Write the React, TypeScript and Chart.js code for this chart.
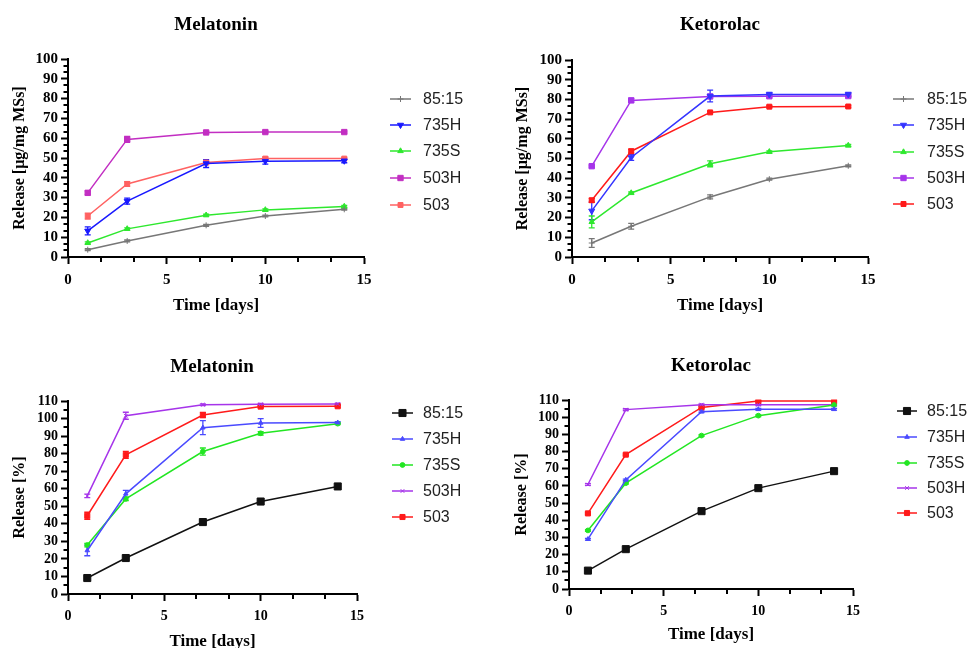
import React, { useEffect, useRef } from 'react';
import { Chart, registerables } from 'chart.js';
import { drawPoint } from 'chart.js/helpers';

Chart.register(...registerables);

// ---------- data ----------
const days = [1, 3, 7, 10, 14];
const seriesNames = ['85:15', '735H', '735S', '503H', '503'];
const xTicks = [0, 5, 10, 15];

// Melatonin, µg/mg MSs
const melUg8515 = [3.7, 8.1, 16.0, 20.7, 24.1];
const melUg735H = [13.2, 28.2, 47.2, 48.4, 48.6];
const melUg735S = [7.1, 14.2, 21.1, 23.8, 25.5];
const melUg503H = [32.4, 59.4, 62.9, 63.1, 63.1];
const melUg503 = [20.7, 36.9, 47.7, 49.7, 49.7];
const melUgErr8515 = [0.5, 0.5, 0.5, 0.4, 0.4];
const melUgErr735H = [2.0, 1.5, 2.0, 1.5, 1.0];
const melUgErr735S = [0.5, 0.5, 0.5, 0.5, 0.5];
const melUgErr503H = [1.0, 1.5, 0.5, 0.5, 0.5];
const melUgErr503 = [1.5, 1.2, 1.0, 0.8, 0.5];

// Ketorolac, µg/mg MSs
const ketUg8515 = [7.1, 15.6, 30.5, 39.5, 46.3];
const ketUg735H = [23.4, 50.5, 81.7, 82.5, 82.5];
const ketUg735S = [17.8, 32.5, 47.3, 53.4, 56.6];
const ketUg503H = [46.1, 79.5, 81.5, 81.6, 81.7];
const ketUg503 = [28.8, 53.7, 73.4, 76.3, 76.4];
const ketUgErr8515 = [2.2, 1.5, 1.0, 0.5, 0.5];
const ketUgErr735H = [4.5, 1.5, 3.0, 1.0, 1.0];
const ketUgErr735S = [3.0, 0.5, 1.5, 0.5, 0.5];
const ketUgErr503H = [0.5, 1.0, 0.5, 0.5, 0.5];
const ketUgErr503 = [1.0, 1.0, 0.5, 0.5, 0.5];

// Melatonin, %
const melPct8515 = [9.1, 20.5, 41.0, 52.7, 61.3];
const melPct735H = [24.8, 57.1, 94.8, 97.5, 97.7];
const melPct735S = [27.9, 54.2, 81.2, 91.6, 97.1];
const melPct503H = [55.9, 101.6, 107.9, 108.1, 108.3];
const melPct503 = [44.6, 79.3, 102.0, 106.8, 107.0];
const melPctErr8515 = [1.0, 1.5, 1.5, 0.5, 0.5];
const melPctErr735H = [3.0, 2.0, 4.0, 2.5, 0.5];
const melPctErr735S = [1.0, 1.0, 2.0, 1.0, 0.5];
const melPctErr503H = [1.0, 2.0, 0.5, 0.5, 0.5];
const melPctErr503 = [2.0, 2.0, 1.5, 0.5, 0.5];

// Ketorolac, %
const ketPct8515 = [10.7, 23.2, 45.3, 58.7, 68.6];
const ketPct735H = [29.0, 63.5, 103.2, 104.6, 104.6];
const ketPct735S = [34.1, 61.6, 89.3, 100.9, 107.1];
const ketPct503H = [60.8, 104.4, 107.3, 107.3, 107.3];
const ketPct503 = [44.0, 78.2, 105.7, 109.4, 109.4];
const ketPctErr8515 = [0.5, 0.5, 0.5, 0.5, 0.5];
const ketPctErr735H = [0.5, 0.5, 0.5, 0.5, 0.5];
const ketPctErr735S = [0.5, 0.5, 0.5, 0.5, 0.5];
const ketPctErr503H = [0.5, 0.5, 0.5, 0.5, 0.5];
const ketPctErr503 = [0.5, 0.5, 0.5, 0.5, 0.5];

// ---------- styles ----------
const SERIF = '"Liberation Serif", "Times New Roman", serif';
const SANS = '"Liberation Sans", Arial, sans-serif';

type Mk = { style: string; r: number; rot?: number };
const topMarkers: Mk[] = [
  { style: 'cross', r: 3 },
  { style: 'triangle', r: 3.5, rot: 180 },
  { style: 'triangle', r: 3.2 },
  { style: 'rect', r: 3.8 },
  { style: 'rect', r: 3.5 },
];
const botMarkers: Mk[] = [
  { style: 'rect', r: 5 },
  { style: 'triangle', r: 2.6 },
  { style: 'circle', r: 2.4 },
  { style: 'crossRot', r: 2.6 },
  { style: 'rect', r: 3.6 },
];
const colorsA = ['#777777', '#1818ff', '#2ee82e', '#c22ec2', '#ff6262'];
const colorsB = ['#777777', '#3434ff', '#2ee82e', '#a634ea', '#ff1a1a'];
const colorsCD = ['#111111', '#4a4aff', '#22e622', '#a634ea', '#ff1a1a'];

type Geo = {
  x: number; y: number; w: number; h: number;
  left: number; right: number; top: number; bottom: number;
  yTitleX: number; xTitleY: number;
  titleX: number; titleY: number;
  legX1: number; legX2: number; legTextX: number; legY: number[];
};

type PanelCfg = {
  id: string;
  title: string;
  yTitle: string;
  yMax: number;
  yMinor: number;
  tickSize: number;
  values: number[][];
  errors: number[][];
  colors: string[];
  markers: Mk[];
  g: Geo;
};

const panels: PanelCfg[] = [
  {
    id: 'a', title: 'Melatonin', yTitle: 'Release [µg/mg MSs]', yMax: 100, yMinor: 10 / 3, tickSize: 15,
    values: [melUg8515, melUg735H, melUg735S, melUg503H, melUg503],
    errors: [melUgErr8515, melUgErr735H, melUgErr735S, melUgErr503H, melUgErr503],
    colors: colorsA, markers: topMarkers,
    g: { x: 0, y: 0, w: 480, h: 320, left: 68, right: 364, top: 59, bottom: 257,
      yTitleX: 20, xTitleY: 306, titleX: 216, titleY: 30,
      legX1: 390, legX2: 411, legTextX: 423, legY: [99, 125, 151, 178, 205] },
  },
  {
    id: 'b', title: 'Ketorolac', yTitle: 'Release [µg/mg MSs]', yMax: 100, yMinor: 10 / 3, tickSize: 15,
    values: [ketUg8515, ketUg735H, ketUg735S, ketUg503H, ketUg503],
    errors: [ketUgErr8515, ketUgErr735H, ketUgErr735S, ketUgErr503H, ketUgErr503],
    colors: colorsB, markers: topMarkers,
    g: { x: 480, y: 0, w: 487, h: 320, left: 92, right: 388, top: 60, bottom: 257,
      yTitleX: 43, xTitleY: 306, titleX: 240, titleY: 30,
      legX1: 413, legX2: 434, legTextX: 447, legY: [99, 125, 152, 178, 204] },
  },
  {
    id: 'c', title: 'Melatonin', yTitle: 'Release [%]', yMax: 110, yMinor: 5, tickSize: 14,
    values: [melPct8515, melPct735H, melPct735S, melPct503H, melPct503],
    errors: [melPctErr8515, melPctErr735H, melPctErr735S, melPctErr503H, melPctErr503],
    colors: colorsCD, markers: botMarkers,
    g: { x: 0, y: 320, w: 480, h: 345, left: 68, right: 357, top: 81, bottom: 274,
      yTitleX: 19.5, xTitleY: 322, titleX: 212, titleY: 52,
      legX1: 392, legX2: 413, legTextX: 423, legY: [93, 119, 145, 171, 197] },
  },
  {
    id: 'd', title: 'Ketorolac', yTitle: 'Release [%]', yMax: 110, yMinor: 5, tickSize: 14,
    values: [ketPct8515, ketPct735H, ketPct735S, ketPct503H, ketPct503],
    errors: [ketPctErr8515, ketPctErr735H, ketPctErr735S, ketPctErr503H, ketPctErr503],
    colors: colorsCD, markers: botMarkers,
    g: { x: 480, y: 320, w: 487, h: 345, left: 89, right: 373, top: 80, bottom: 269,
      yTitleX: 42, xTitleY: 315, titleX: 231, titleY: 51,
      legX1: 417, legX2: 437, legTextX: 447, legY: [91, 117, 143, 168, 193] },
  },
];

function makeDecor(cfg: PanelCfg) {
  return {
    id: 'decor-' + cfg.id,
    beforeDatasetsDraw(chart: any) {
      const ctx = chart.ctx;
      const xs = chart.scales.x;
      const ys = chart.scales.y;
      const ca = chart.chartArea;
      ctx.save();
      // minor ticks
      ctx.strokeStyle = '#000';
      ctx.lineWidth = 2;
      ctx.beginPath();
      const ny = Math.round(cfg.yMax / cfg.yMinor);
      for (let k = 1; k < ny; k++) {
        const v = k * cfg.yMinor;
        if (Math.abs(v / 10 - Math.round(v / 10)) < 1e-6) continue;
        const py = Math.round(ys.getPixelForValue(v));
        ctx.moveTo(ca.left, py);
        ctx.lineTo(ca.left - 4.5, py);
      }
      const xMinor = 5 / 3;
      for (let k = 1; k < 9; k++) {
        const v = k * xMinor;
        if (Math.abs(v / 5 - Math.round(v / 5)) < 1e-6) continue;
        const px = Math.round(xs.getPixelForValue(v));
        ctx.moveTo(px, ca.bottom);
        ctx.lineTo(px, ca.bottom + 5);
      }
      ctx.stroke();
      // error bars
      chart.data.datasets.forEach((ds: any, di: number) => {
        const meta = chart.getDatasetMeta(di);
        ctx.strokeStyle = ds.borderColor;
        ctx.lineWidth = 1.3;
        ds.data.forEach((p: any, i: number) => {
          const e = ds.errorBars[i];
          if (!e) return;
          const px = meta.data[i].x;
          const y1 = ys.getPixelForValue(p.y + e);
          const y2 = ys.getPixelForValue(p.y - e);
          ctx.beginPath();
          ctx.moveTo(px, y1);
          ctx.lineTo(px, y2);
          ctx.moveTo(px - 3, y1);
          ctx.lineTo(px + 3, y1);
          ctx.moveTo(px - 3, y2);
          ctx.lineTo(px + 3, y2);
          ctx.stroke();
        });
      });
      ctx.restore();
    },
    afterDraw(chart: any) {
      const ctx = chart.ctx;
      const g = cfg.g;
      ctx.save();
      // title
      ctx.fillStyle = '#000';
      ctx.font = 'bold 19px ' + SERIF;
      ctx.textAlign = 'center';
      ctx.textBaseline = 'alphabetic';
      ctx.fillText(cfg.title, g.titleX, g.titleY);
      // legend
      ctx.font = '16px ' + SANS;
      ctx.textAlign = 'left';
      ctx.textBaseline = 'middle';
      seriesNames.forEach((name, i) => {
        const y = g.legY[i];
        const c = cfg.colors[i];
        ctx.strokeStyle = c;
        ctx.fillStyle = c;
        ctx.lineWidth = 1.5;
        ctx.beginPath();
        ctx.moveTo(g.legX1, y);
        ctx.lineTo(g.legX2, y);
        ctx.stroke();
        const m = cfg.markers[i];
        ctx.lineWidth = 1;
        drawPoint(ctx, { pointStyle: m.style, radius: m.r, rotation: m.rot || 0, borderWidth: 1 } as any, (g.legX1 + g.legX2) / 2, y);
        ctx.fillStyle = '#222';
        ctx.fillText(name, g.legTextX, y + 1);
      });
      ctx.restore();
    },
  };
}

function buildConfig(cfg: PanelCfg): any {
  const g = cfg.g;
  const tickFont = { family: SERIF, size: cfg.tickSize, weight: 'bold', lineHeight: 1.2 };
  const titleFont = { family: SERIF, size: 17, weight: 'bold', lineHeight: 1.2 };
  const yTitleFont = { family: SERIF, size: 16, weight: 'bold', lineHeight: 1.2 };
  const datasets = seriesNames.map((name, i) => ({
    label: name,
    data: days.map((d, k) => ({ x: d, y: cfg.values[i][k] })),
    errorBars: cfg.errors[i],
    borderColor: cfg.colors[i],
    backgroundColor: cfg.colors[i],
    borderWidth: 1.5,
    pointStyle: cfg.markers[i].style,
    pointRadius: cfg.markers[i].r,
    pointRotation: cfg.markers[i].rot || 0,
    pointBorderWidth: 1,
    tension: 0,
    fill: false,
  }));
  return {
    type: 'line',
    data: { datasets },
    options: {
      animation: false,
      responsive: false,
      devicePixelRatio: 1,
      events: [],
      layout: { padding: { left: 0, top: g.top, right: g.w - g.right, bottom: 0 } },
      plugins: { legend: { display: false }, title: { display: false }, tooltip: { enabled: false } },
      scales: {
        x: {
          type: 'linear', min: 0, max: 15,
          afterBuildTicks: (s: any) => { s.ticks = xTicks.map((v) => ({ value: v })); },
          ticks: { font: tickFont, color: '#000', padding: 7, maxRotation: 0, autoSkip: false },
          grid: { drawOnChartArea: false, drawTicks: true, tickLength: 7, tickWidth: 2, tickColor: '#000' },
          border: { display: true, color: '#000', width: 2 },
          title: { display: true, text: 'Time [days]', font: titleFont, color: '#000',
            padding: { top: 0, bottom: g.h - g.xTitleY - 10.2 } },
          afterFit: (s: any) => { s.height = g.h - g.bottom; },
        },
        y: {
          type: 'linear', min: 0, max: cfg.yMax,
          ticks: { stepSize: 10, font: tickFont, color: '#000', padding: 3, autoSkip: false },
          grid: { drawOnChartArea: false, drawTicks: true, tickLength: 7, tickWidth: 2, tickColor: '#000' },
          border: { display: true, color: '#000', width: 2 },
          title: { display: true, text: cfg.yTitle, font: yTitleFont, color: '#000',
            padding: { top: cfg.g.yTitleX - 9.6, bottom: 0 } },
          afterFit: (s: any) => { s.width = g.left; },
        },
      },
    },
    plugins: [makeDecor(cfg)],
  };
}

function Panel({ cfg }: { cfg: PanelCfg }) {
  const ref = useRef<HTMLCanvasElement | null>(null);
  useEffect(() => {
    if (!ref.current) return;
    const chart = new Chart(ref.current, buildConfig(cfg));
    return () => chart.destroy();
  }, [cfg]);
  const g = cfg.g;
  return (
    <canvas
      ref={ref}
      width={g.w}
      height={g.h}
      style={{ position: 'absolute', left: g.x, top: g.y, width: g.w, height: g.h }}
    />
  );
}

export default function App() {
  return (
    <div style={{ position: 'fixed', left: 0, top: 0, width: 967, height: 648, overflow: 'hidden', background: '#fff' }}>
      {panels.map((p) => (
        <Panel key={p.id} cfg={p} />
      ))}
    </div>
  );
}
